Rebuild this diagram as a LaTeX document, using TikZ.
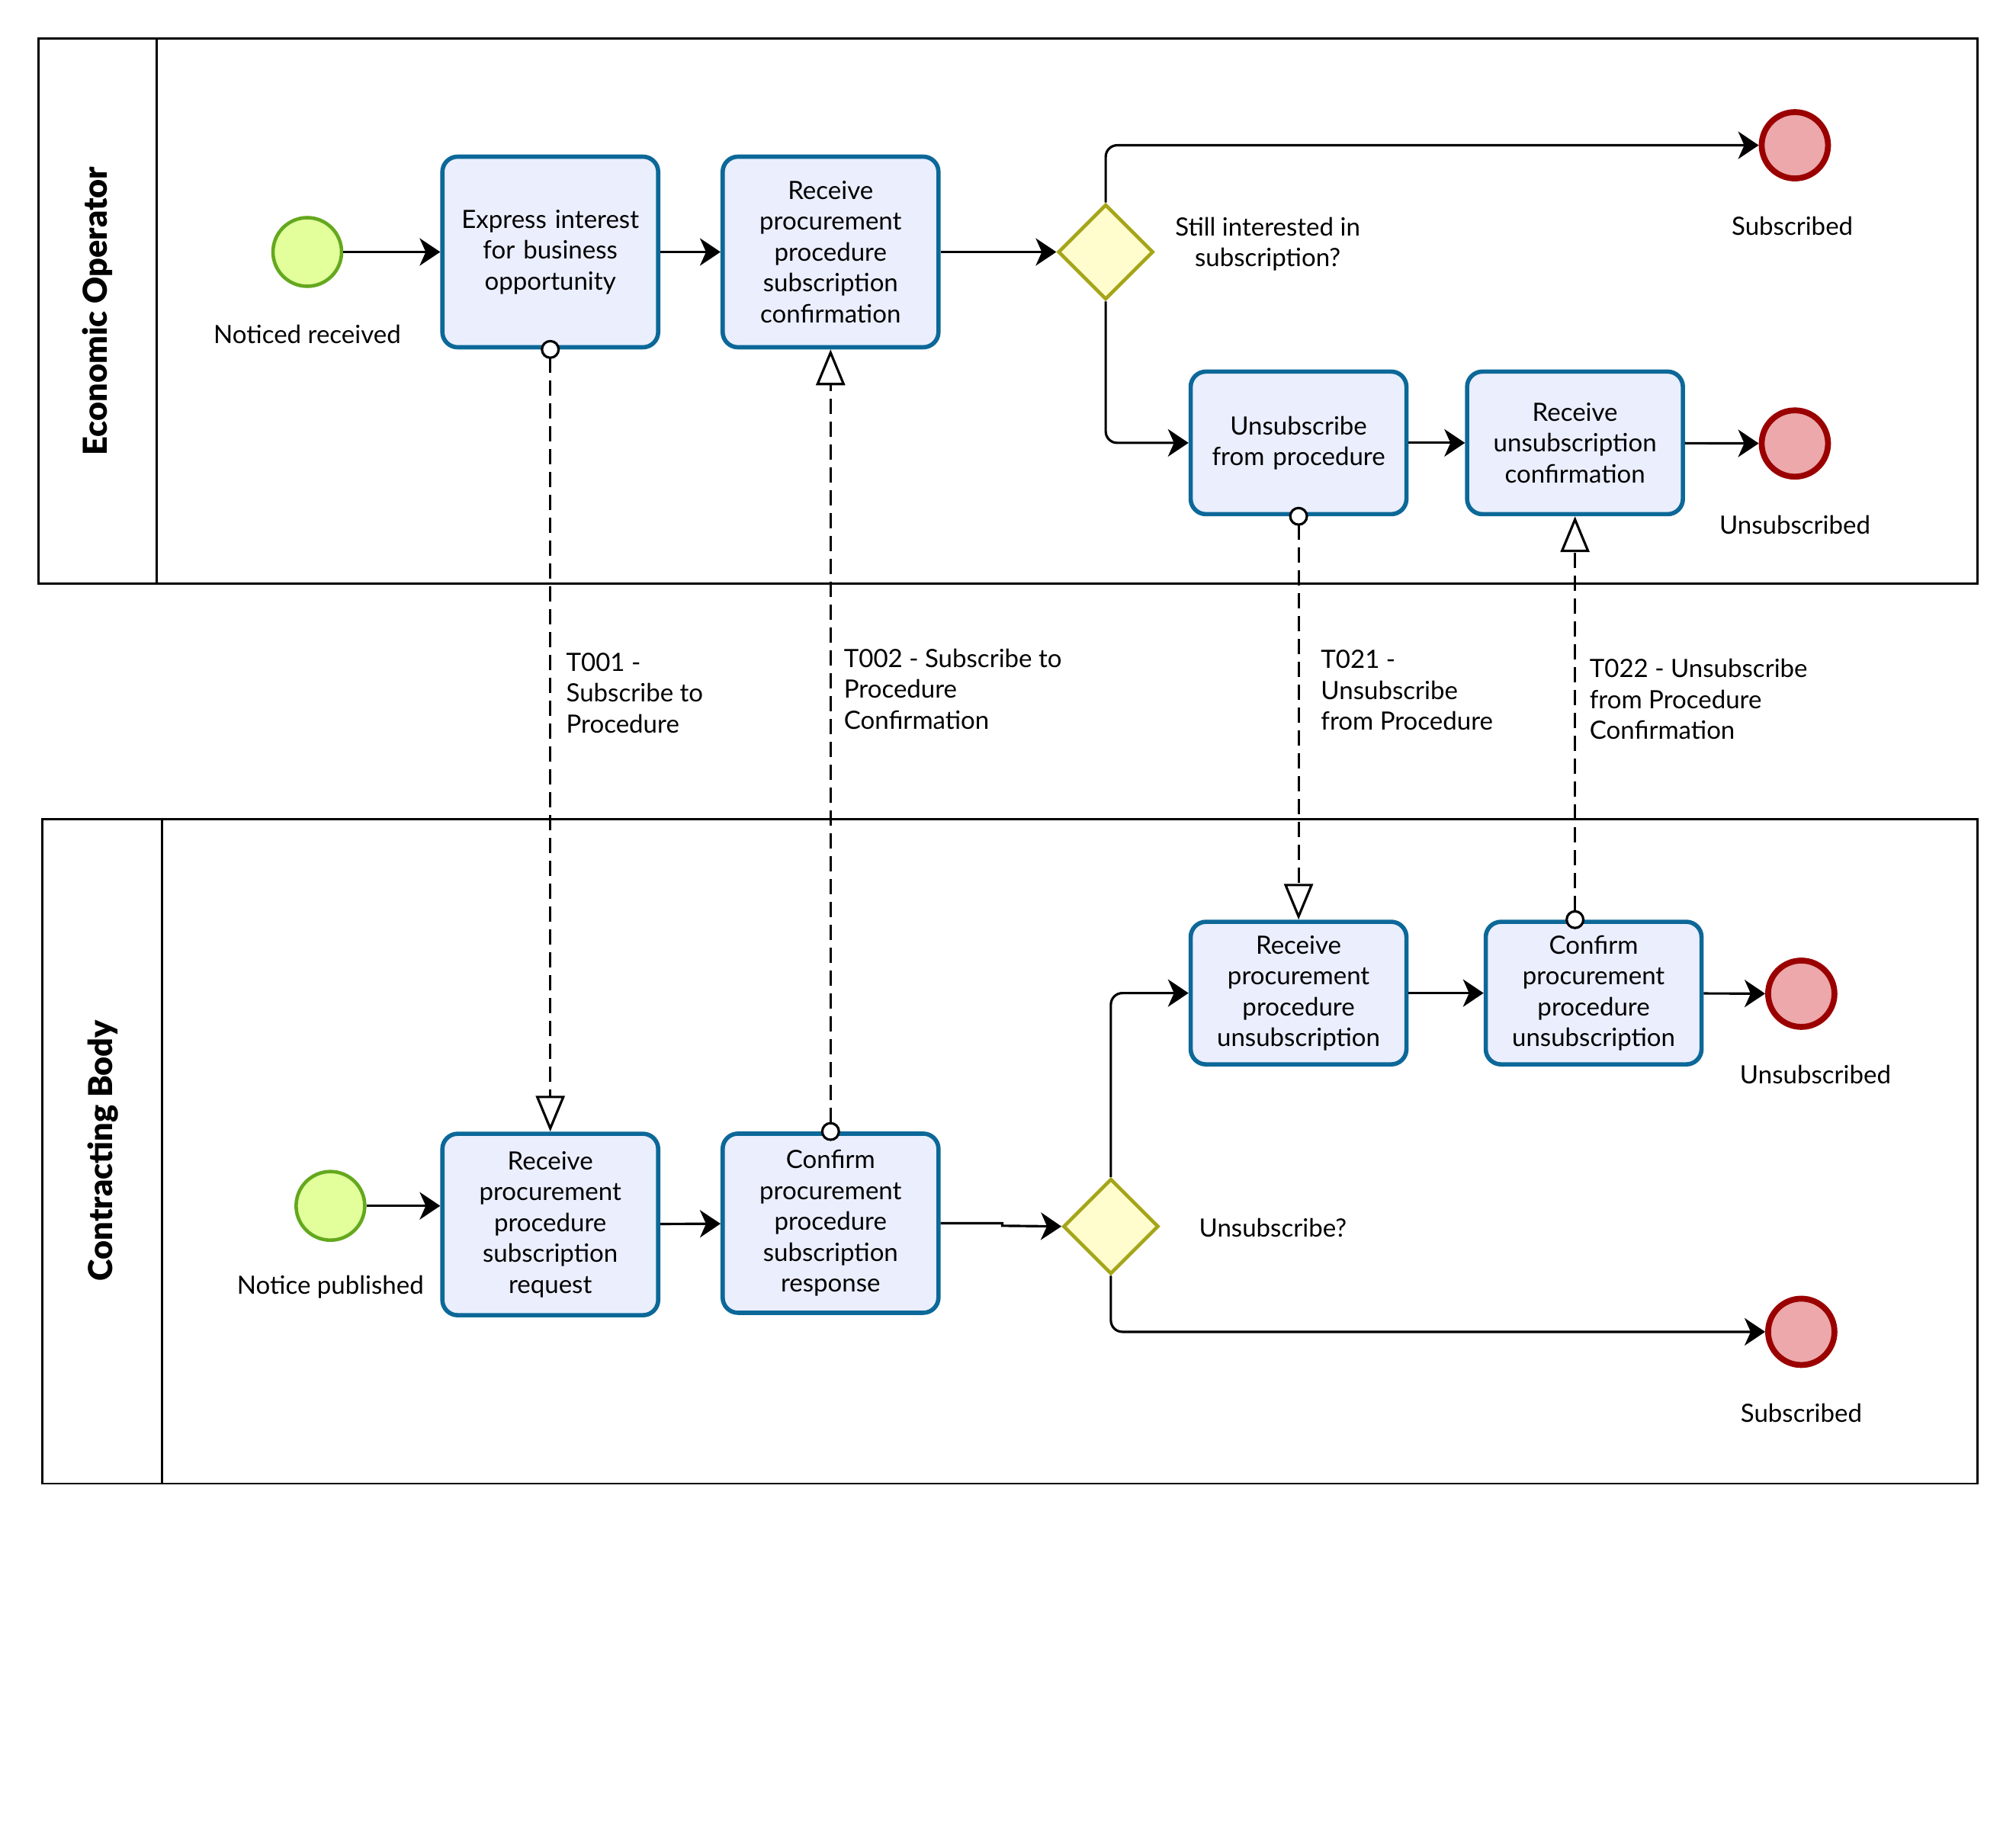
\documentclass[tikz,border=0pt]{standalone}
\usepackage{fontspec}
\setmainfont{Lato}
\usetikzlibrary{arrows.meta,shapes.geometric}
\definecolor{taskfill}{RGB}{234,238,253}
\definecolor{taskline}{RGB}{12,104,152}
\definecolor{startfill}{RGB}{226,255,155}
\definecolor{startline}{RGB}{100,168,30}
\definecolor{gatefill}{RGB}{255,253,206}
\definecolor{gateline}{RGB}{165,165,25}
\definecolor{endfill}{RGB}{236,168,170}
\definecolor{endline}{RGB}{155,0,0}
\tikzset{
  task/.style={draw=taskline, fill=taskfill, line width=1.6pt, rounded corners=0.2cm,
    minimum width=2.83cm, text width=2.7cm, align=center, inner sep=0pt},
  startev/.style={circle, draw=startline, fill=startfill, line width=1.3pt, minimum size=0.9cm, inner sep=0pt},
  endev/.style={circle, draw=endline, fill=endfill, line width=2.2pt, minimum size=0.87cm, inner sep=0pt},
  gate/.style={diamond, aspect=1, draw=gateline, fill=gatefill, line width=1.3pt, minimum size=1.25cm, inner sep=0pt},
  flow/.style={line width=0.9pt, rounded corners=0.15cm, -{Stealth[length=0.27cm,width=0.36cm,inset=0.08cm]}},
  msg/.style={line width=0.9pt, dash pattern=on 0.2cm off 0.1cm,
    {Circle[open,fill=white,length=0.25cm,width=0.25cm,line width=0.9pt]}-{Triangle[open,fill=white,length=0.47cm,width=0.38cm,line width=0.9pt]},
    shorten <=-0.125cm},
  lbl/.style={align=center, inner sep=0pt},
  msglbl/.style={align=left, anchor=west, inner sep=0pt},
  pool/.style={draw, line width=0.8pt},
  poollbl/.style={rotate=90, font=\fontspec{Lato Black}\fontsize{12.3}{15}\selectfont, inner sep=0pt}
}
\begin{document}
\begin{tikzpicture}[x=0.01686cm,y=-0.01686cm, font=\fontsize{9.4}{11.5}\selectfont]
\useasboundingbox (0,0) rectangle (1568,1425);
% pools
\draw[pool] (30,30) rectangle (1538,454);
\draw[pool] (122,30) -- (122,454);
\node[poollbl] (p1) at (76,242) {Economic Operator};
\draw[pool] (33,637) rectangle (1538,1154);
\draw[pool] (126,637) -- (126,1154);
\node[poollbl] (p2) at (80,895) {Contracting Body};

% top lane
\node[startev] (s1) at (239,196) {};
\node[lbl] (s1l) at (239,260) {Noticed received};
\node[task, minimum height=2.5cm] (t1) at (428,196) {Express interest\\for business\\opportunity};
\node[task, minimum height=2.5cm] (t2) at (646,196) {Receive\\procurement\\procedure\\subscription\\confirmation};
\node[gate] (g1) at (860,196) {};
\node[lbl] (g1l) at (986,190) {Still interested in\\subscription?};
\node[endev] (e1) at (1396,113) {};
\node[lbl] (e1l) at (1394,176) {Subscribed};
\node[task, minimum height=1.87cm] (t3) at (1010,344.5) {Unsubscribe\\from procedure};
\node[task, minimum height=1.87cm] (t4) at (1225,344.5) {Receive\\unsubscription\\confirmation};
\node[endev] (e2) at (1396,345) {};
\node[lbl] (e2l) at (1396,408) {Unsubscribed};

% bottom lane
\node[startev] (s2) at (257,938) {};
\node[lbl] (s2l) at (257,1001) {Notice published};
\node[task, minimum height=2.38cm] (t5) at (428,952.5) {Receive\\procurement\\procedure\\subscription\\request};
\node[task, minimum height=2.35cm] (t6) at (646,951.5) {Confirm\\procurement\\procedure\\subscription\\response};
\node[gate] (g2) at (864,954) {};
\node[lbl] (g2l) at (990,955) {Unsubscribe?};
\node[task, minimum height=1.87cm] (t7) at (1010,772.5) {Receive\\procurement\\procedure\\unsubscription};
\node[task, minimum height=1.87cm] (t8) at (1239.5,772.5) {Confirm\\procurement\\procedure\\unsubscription};
\node[endev] (e3) at (1401,773) {};
\node[lbl] (e3l) at (1412,836) {Unsubscribed};
\node[endev] (e4) at (1401,1036) {};
\node[lbl] (e4l) at (1401,1099) {Subscribed};

% sequence flows
\draw[flow] (s1) -- (t1);
\draw[flow] (t1) -- (t2);
\draw[flow] (t2) -- (g1);
\draw[flow] (g1.north) |- (e1.west);
\draw[flow] (g1.south) |- (t3.west);
\draw[flow] (t3) -- (t4);
\draw[flow] (t4) -- (e2);
\draw[flow] (s2) -- (s2 -| t5.west);
\draw[flow] (t5) -- (t6);
\draw[flow, rounded corners=0pt] (t6.east) -- ++(48,0) -- ++(0,2) -- (g2.west);
\draw[flow] (g2.north) |- (t7.west);
\draw[flow] (t7) -- (t8);
\draw[flow] (t8) -- (e3);
\draw[flow] (g2.south) |- (e4.west);

% message flows
\draw[msg] (t1.south) -- (t5.north);
\draw[msg] (t6.north) -- (t2.south);
\draw[msg] (t3.south) -- (t7.north);
\coordinate (m4) at (t8.north -| t4.south);
\draw[msg] (m4) -- (t4.south);

\node[msglbl] (m1l) at (440,539) {T001 -\\Subscribe to\\Procedure};
\node[msglbl] (m2l) at (656,536) {T002 - Subscribe to\\Procedure\\Confirmation};
\node[msglbl] (m3l) at (1027,537) {T021 -\\Unsubscribe\\from Procedure};
\node[msglbl] (m4l) at (1236,544) {T022 - Unsubscribe\\from Procedure\\Confirmation};
\end{tikzpicture}
\end{document}
